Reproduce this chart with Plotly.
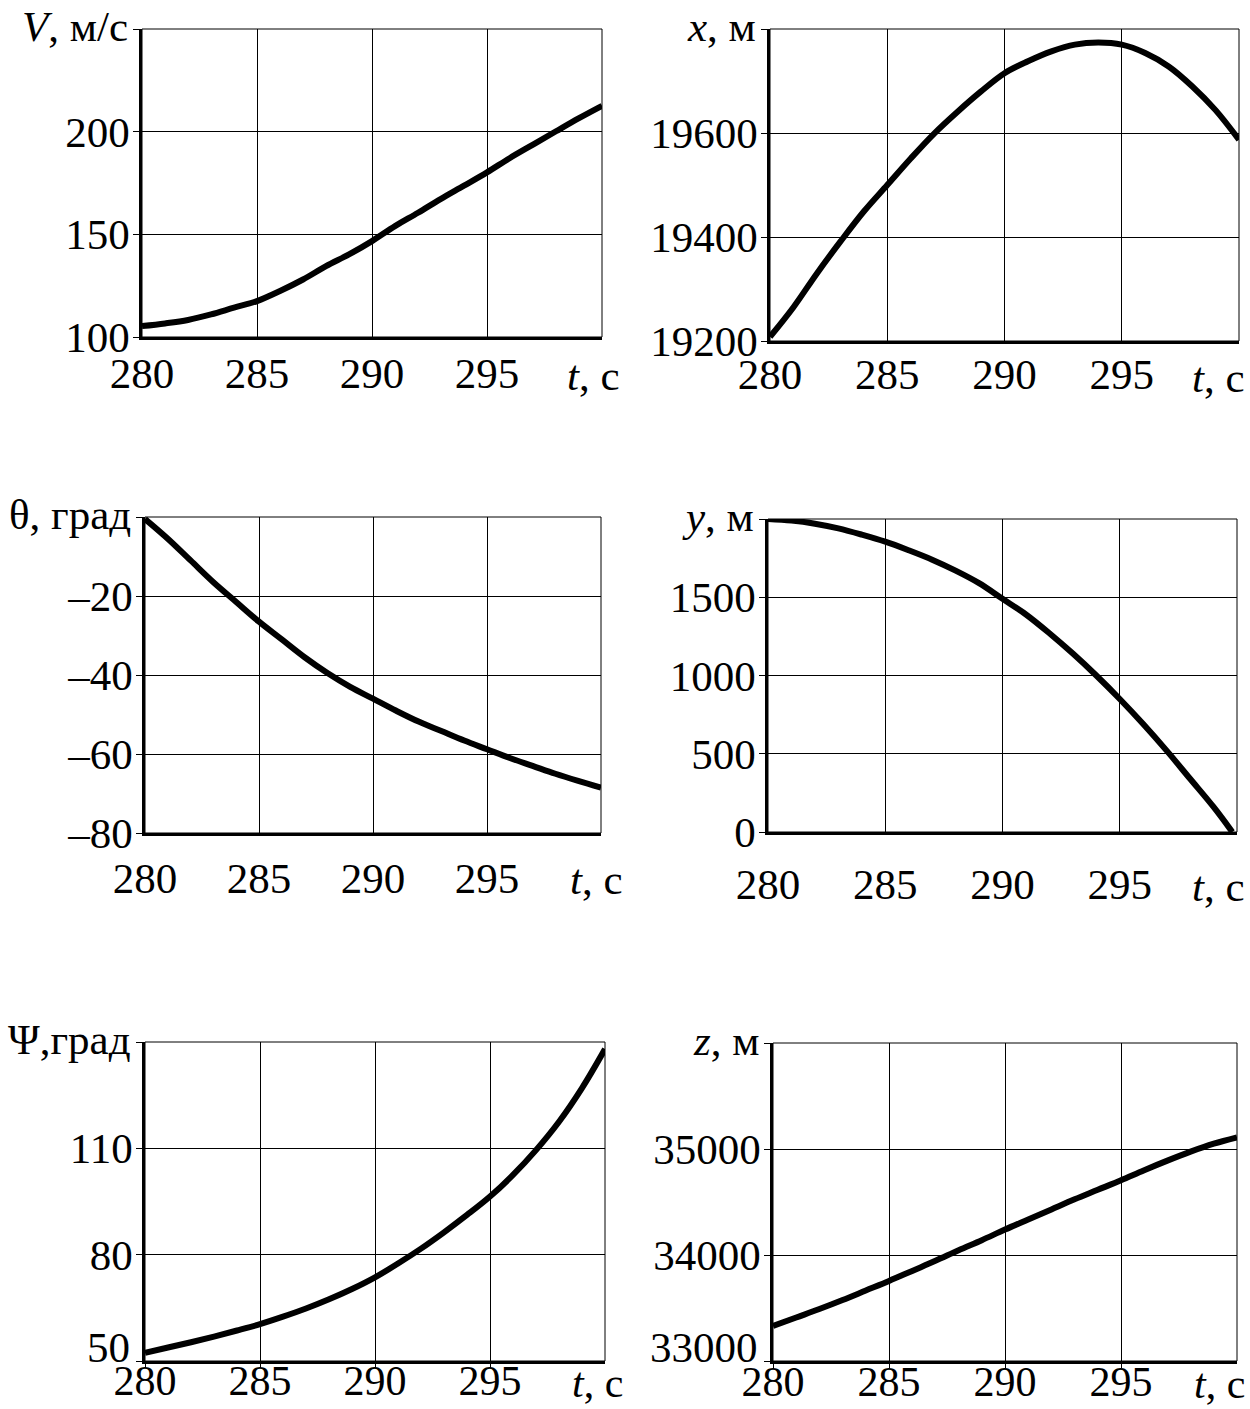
import plotly.graph_objects as go

W, H = 1250, 1409

# ---- data ----
t = [280, 281, 282, 283, 284, 285, 286, 287, 288, 289, 290,
     291, 292, 293, 294, 295, 296, 297, 298, 299, 300]
V = [105.3, 106.6, 108.3, 111.0, 114.3, 117.5, 122.4, 128.0, 134.5, 140.2, 146.7,
     154.0, 160.5, 167.3, 173.7, 180.2, 187.2, 193.7, 200.2, 206.6, 212.6]
X = [19208, 19265, 19330, 19391, 19449, 19500, 19551, 19599, 19641, 19680, 19715,
     19738, 19757, 19770, 19774, 19770, 19754, 19728, 19690, 19644, 19587]
THETA = [-0.5, -5.5, -11.0, -16.5, -21.5, -26.5, -31.0, -35.5, -39.5, -43.0, -46.0,
         -49.0, -51.8, -54.2, -56.6, -58.8, -61.0, -63.0, -65.0, -66.8, -68.5]
t_y = [280, 281, 282, 283, 284, 285, 286, 287, 288, 289, 290,
       291, 292, 293, 294, 295, 296, 297, 298, 299, 299.8]
Y = [2000, 1990, 1970, 1940, 1900, 1855, 1800, 1740, 1670, 1590, 1490,
     1390, 1270, 1140, 1000, 850, 690, 520, 340, 160, 0]
PSI = [52.3, 53.8, 55.3, 56.9, 58.6, 60.4, 62.5, 64.8, 67.4, 70.3, 73.6,
       77.5, 81.7, 86.3, 91.2, 96.4, 102.5, 109.5, 117.5, 127.0, 138.0]
Z = [33330, 33410, 33490, 33575, 33665, 33755, 33850, 33945, 34045, 34140, 34240,
     34335, 34430, 34525, 34615, 34705, 34800, 34890, 34975, 35050, 35110]

x_ticks = [280, 285, 290, 295]
x_ticktext = ["280", "285", "290", "295"]

panels = [
    dict(t=t, v=V, yr=[100, 250], yt=[100, 150, 200, 250], ytt=["100", "150", "200", ""],
         title="<i>V</i>, м/с"),
    dict(t=t, v=X, yr=[19200, 19800], yt=[19200, 19400, 19600, 19800],
         ytt=["19200", "19400", "19600", ""], title="<i>x</i>, м"),
    dict(t=t, v=THETA, yr=[-80, 0], yt=[-80, -60, -40, -20, 0],
         ytt=["–80", "–60", "–40", "–20", ""], title="θ, град"),
    dict(t=t_y, v=Y, yr=[0, 2000], yt=[0, 500, 1000, 1500, 2000],
         ytt=["0", "500", "1000", "1500", ""], title="<i>y</i>, м"),
    dict(t=t, v=PSI, yr=[50, 140], yt=[50, 80, 110, 140], ytt=["50", "80", "110", ""],
         title="Ψ,град"),
    dict(t=t, v=Z, yr=[33000, 36000], yt=[33000, 34000, 35000, 36000],
         ytt=["33000", "34000", "35000", ""], title="<i>z</i>, м"),
]

# pixel boxes (left, right, top, bottom)
boxes = [
    (142, 602, 29, 337),
    (770, 1239, 29, 341),
    (145, 601, 517, 833),
    (768, 1237, 519, 832),
    (145, 605, 1042, 1361),
    (773, 1237, 1043, 1361),
]
x_has_ticks = [False, False, False, False, True, True]
xlab_standoff = [-3, -6, 6, 13, -23, -22]
lift_bottom_label = [False, False, False, False, True, True]
tc_y = [375, 378, 880, 886, 1383, 1384]
tc_right = [622, 1247, 625, 1247, 625, 1247]

FONT = "Liberation Serif, Times New Roman, serif"
FS = 43
fig = go.Figure()
layout = dict(width=W, height=H, margin=dict(l=0, r=0, t=0, b=0, autoexpand=False),
              paper_bgcolor="white", plot_bgcolor="white", showlegend=False,
              font=dict(family=FONT, size=FS, color="black"))
annotations = []
shapes = []

for i, (p, b) in enumerate(zip(panels, boxes)):
    n = i + 1
    xa = "x" if n == 1 else f"x{n}"
    ya = "y" if n == 1 else f"y{n}"
    l, r, tp, bt = b
    fs_x = FS if n <= 4 else 42
    fig.add_trace(go.Scatter(x=p["t"], y=p["v"], mode="lines",
                             line=dict(color="black", width=6, shape="spline"),
                             xaxis=xa, yaxis=ya))
    xkey = "xaxis" if n == 1 else f"xaxis{n}"
    ykey = "yaxis" if n == 1 else f"yaxis{n}"
    ytt = list(p["ytt"])
    if lift_bottom_label[i]:
        # bottom value label sits a little above its tick (as in the original)
        annotations.append(dict(text=ytt[0], xref="paper", yref=ya,
                                x=(l - 13) / W, y=p["yr"][0], yshift=14,
                                xanchor="right", yanchor="middle", showarrow=False,
                                font=dict(family=FONT, size=FS, color="black")))
        ytt[0] = ""
    layout[xkey] = dict(domain=[l / W, r / W], anchor=ya, range=[280, 300],
                        tickvals=x_ticks, ticktext=x_ticktext,
                        showgrid=True, gridcolor="black", gridwidth=1,
                        showline=True, linecolor="black", linewidth=2.5,
                        ticks="outside" if x_has_ticks[i] else "", ticklen=4,
                        tickcolor="black",
                        tickfont=dict(family=FONT, size=fs_x, color="black"),
                        ticklabelstandoff=xlab_standoff[i], ticklabeloverflow="allow",
                        zeroline=False, automargin=False, fixedrange=True)
    layout[ykey] = dict(domain=[1 - bt / H, 1 - tp / H], anchor=xa, range=p["yr"],
                        tickvals=p["yt"], ticktext=ytt,
                        showgrid=True, gridcolor="black", gridwidth=1,
                        showline=True, linecolor="black", linewidth=2.5,
                        ticks="outside", ticklen=6, tickcolor="black",
                        tickfont=dict(family=FONT, size=FS, color="black"),
                        ticklabelstandoff=-5, ticklabeloverflow="allow",
                        zeroline=False, automargin=False, fixedrange=True)
    # thin frame on top/right
    shapes.append(dict(type="rect", xref=f"{xa} domain", yref=f"{ya} domain",
                       x0=0, x1=1, y0=0, y1=1, line=dict(color="black", width=1),
                       layer="above"))
    # y-axis title at top left
    annotations.append(dict(text=p["title"], xref="paper", yref="paper",
                            x=(l - 12) / W, y=1 - (tp - 3) / H,
                            xanchor="right", yanchor="middle", showarrow=False,
                            font=dict(family=FONT, size=FS, color="black")))
    # t, c label at bottom right
    annotations.append(dict(text="<i>t</i>, с", xref="paper", yref="paper",
                            x=tc_right[i] / W, y=1 - tc_y[i] / H,
                            xanchor="right", yanchor="middle", showarrow=False,
                            font=dict(family=FONT, size=fs_x, color="black")))

layout["annotations"] = annotations
layout["shapes"] = shapes
fig.update_layout(**layout)
fig.write_html("out.html", config={"displayModeBar": False},
               post_script="document.body.style.margin='0';"
                           "document.body.style.overflow='hidden';")
